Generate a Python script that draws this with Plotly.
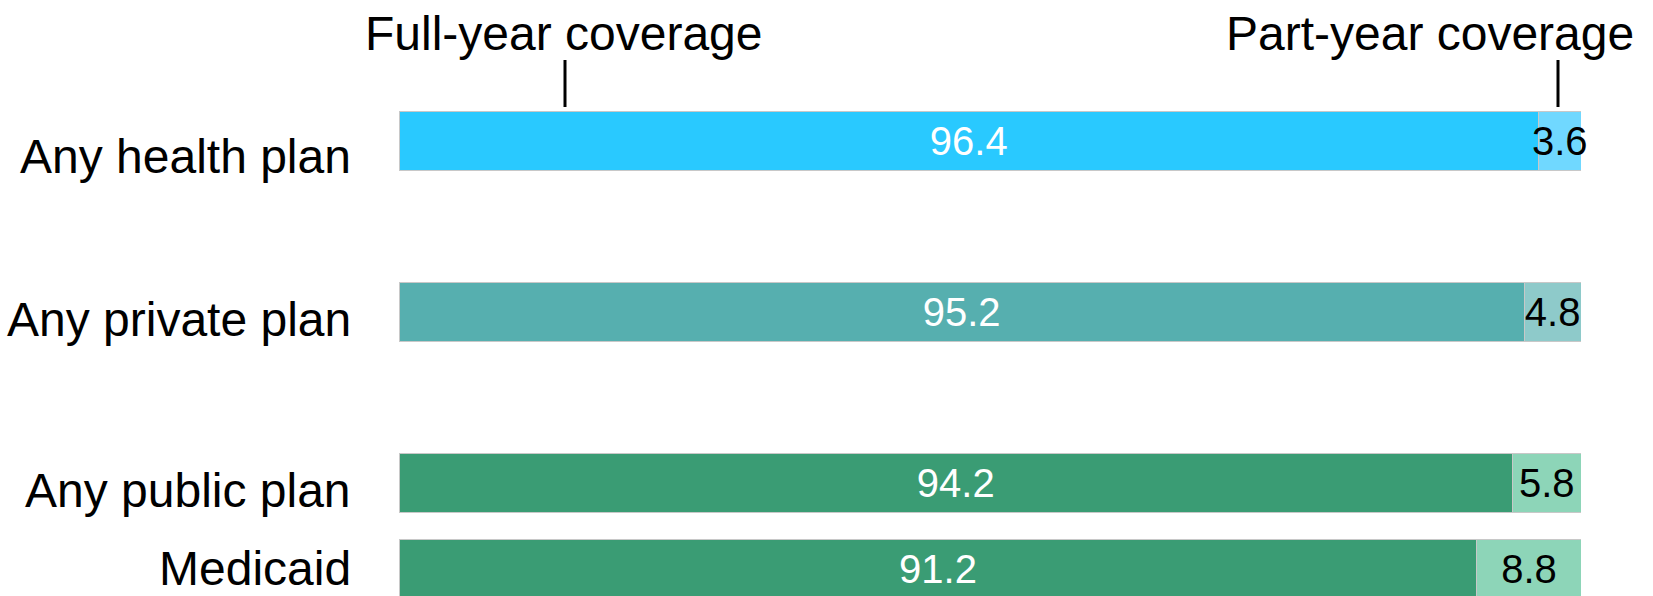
import plotly.graph_objects as go

categories = ["Any health plan", "Any private plan", "Any public plan", "Medicaid"]
full_year = [96.4, 95.2, 94.2, 91.2]
part_year = [3.6, 4.8, 5.8, 8.8]

# layout / style
ypos = [0, 1, 2, 2.5]
full_colors = ["#29C9FF", "#56AFAF", "#3A9C74", "#3A9C74"]
part_colors = ["#70D8FF", "#8ECACA", "#8DD5B8", "#8DD5B8"]
label_shift = [-15, -7, -7, 0]
FONT = "Liberation Sans, Arial, sans-serif"

W, H = 1653, 596
ML, MR, MT, MB = 399, 72, 100, 0
unit = 171.0
top_px = MT
bot_px = H - MB
y0_px = 141.0
yr_top = (top_px - y0_px) / unit
yr_bot = (bot_px - y0_px) / unit

fig = go.Figure()
fig.add_trace(go.Bar(
    y=ypos, x=full_year, orientation="h", width=0.34,
    marker=dict(color=full_colors, line=dict(color="#C8C8C8", width=1)),
    text=[f"{v:.1f}" for v in full_year], textposition="inside", textangle=0,
    insidetextanchor="middle", constraintext="none", cliponaxis=False,
    insidetextfont=dict(color="white", size=40, family=FONT),
    showlegend=False, hoverinfo="skip",
))
fig.add_trace(go.Bar(
    y=ypos, x=part_year, orientation="h", width=0.34,
    marker=dict(color=part_colors, line=dict(color="#C8C8C8", width=1)),
    text=[f"{v:.1f}" for v in part_year], textposition="inside", textangle=0,
    insidetextanchor="middle", constraintext="none", cliponaxis=False,
    insidetextfont=dict(color="black", size=40, family=FONT),
    showlegend=False, hoverinfo="skip",
))

annotations = []
for cat, p, s in zip(categories, ypos, label_shift):
    annotations.append(dict(
        text=cat, xref="paper", x=0, xanchor="right", xshift=-46,
        yref="y", y=p, yanchor="middle", yshift=s, showarrow=False,
        font=dict(size=48, color="black", family=FONT),
    ))

def py(px):
    return (H - MB - px) / (H - MT - MB)

def px_to_x(px):
    return (px - ML) / (W - ML - MR) * 100

annotations.append(dict(
    text="Full-year coverage", xref="x", x=px_to_x(564), xanchor="center",
    yref="paper", y=py(33), yanchor="middle", showarrow=False,
    font=dict(size=48, color="black", family=FONT),
))
annotations.append(dict(
    text="Part-year coverage", xref="x", x=px_to_x(1430), xanchor="center",
    yref="paper", y=py(33), yanchor="middle", showarrow=False,
    font=dict(size=48, color="black", family=FONT),
))

shapes = [
    dict(type="line", xref="x", yref="paper", x0=px_to_x(565), x1=px_to_x(565),
         y0=py(60), y1=py(107), line=dict(color="black", width=3)),
    dict(type="line", xref="x", yref="paper", x0=px_to_x(1558), x1=px_to_x(1558),
         y0=py(60), y1=py(107), line=dict(color="black", width=3)),
]

fig.update_layout(
    barmode="stack",
    width=W, height=H,
    margin=dict(l=ML, r=MR, t=MT, b=MB, pad=0),
    paper_bgcolor="white", plot_bgcolor="white",
    xaxis=dict(range=[0, 100], visible=False, fixedrange=True),
    yaxis=dict(range=[yr_bot, yr_top], visible=False, fixedrange=True),
    annotations=annotations, shapes=shapes,
    font=dict(family=FONT),
)

fig.write_html("out.html", config={"displayModeBar": False},
               post_script="document.body.style.margin='0px';document.body.style.overflow='hidden';")
